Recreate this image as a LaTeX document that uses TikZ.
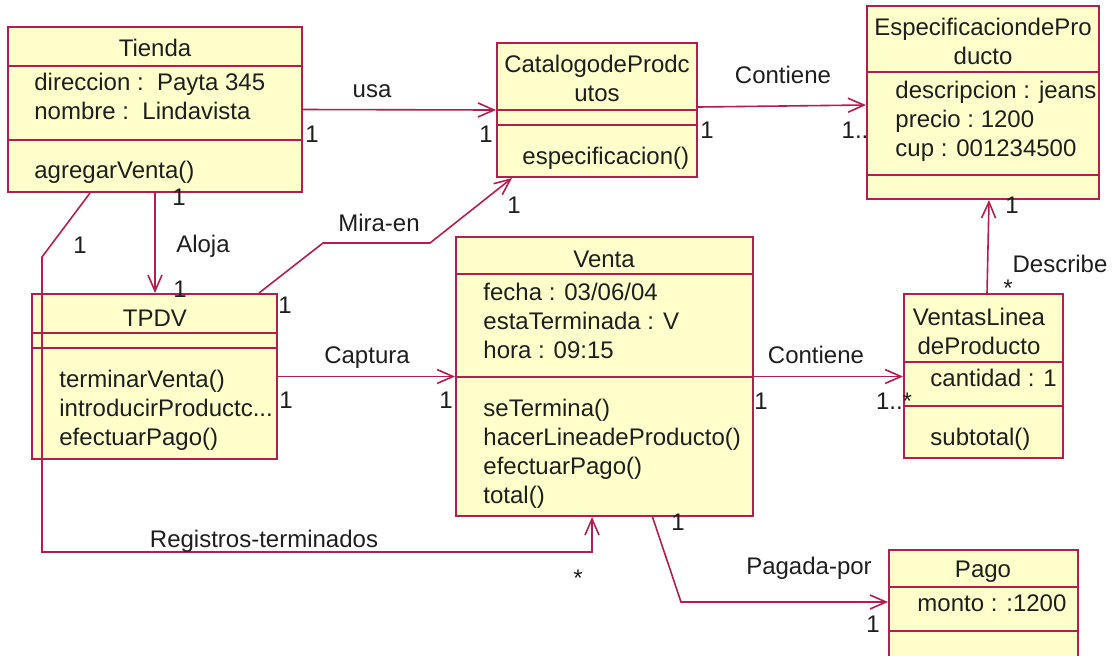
\documentclass[tikz,border=0pt]{standalone}
\usepackage{fontspec}
\setmainfont{Liberation Sans}
\usetikzlibrary{arrows.meta, positioning}
\definecolor{umlline}{RGB}{180,30,78}
\definecolor{umlfill}{RGB}{255,255,204}
\definecolor{umltext}{RGB}{30,30,30}

\begin{document}
\begin{tikzpicture}[
    x=0.5pt, y=-0.5pt,
    font=\fontsize{12}{14.5}\selectfont,
    classbox/.style={rectangle, draw=umlline, fill=umlfill, line width=1pt, inner sep=0pt},
    divider/.style={draw=umlline, line width=1pt},
    txt/.style={inner sep=0pt, align=left, anchor=base west, text=umltext},
    ttl/.style={inner sep=0pt, align=center, anchor=base, text=umltext},
    lbl/.style={inner sep=0pt, anchor=base, text=umltext},
    assoc/.style={draw=umlline, line width=0.8pt, -{Straight Barb[length=8pt,width=7pt]}},
    link/.style={draw=umlline, line width=0.8pt}
]
\useasboundingbox (0,0) rectangle (1112,655);
\fill[white] (0,0) rectangle (1112,655);
\clip (0,0) rectangle (1112,655);

% Classes (multi-line texts sit on the baseline of their last line)
\node (tienda) [classbox, minimum width=147pt, minimum height=82.5pt] at (155,109.5) {};
\draw [divider] (tienda.west |- 0,66) -- (tienda.east |- 0,66);
\draw [divider] (tienda.west |- 0,140) -- (tienda.east |- 0,140);
\node (tienda-name) [ttl] at (155,56) {Tienda};
\node (tienda-attr) [txt] at (34,119) {direccion :\ \ Payta 345\\nombre :\ \ Lindavista};
\node (tienda-ops) [txt] at (34,178) {agregarVenta()};

\node (catalogo) [classbox, minimum width=100pt, minimum height=67pt] at (597,110) {};
\draw [divider] (catalogo.west |- 0,110) -- (catalogo.east |- 0,110);
\draw [divider] (catalogo.west |- 0,125) -- (catalogo.east |- 0,125);
\node (catalogo-name) [ttl] at (597,101) {CatalogodeProdc\\utos};
\node (catalogo-ops) [txt] at (522,164) {especificacion()};

\node (espec) [classbox, minimum width=116pt, minimum height=96.5pt] at (983,102.5) {};
\draw [divider] (espec.west |- 0,72) -- (espec.east |- 0,72);
\draw [divider] (espec.west |- 0,175) -- (espec.east |- 0,175);
\node (espec-name) [ttl] at (983,64) {EspecificaciondePro\\ducto};
\node (espec-attr) [txt] at (895,156) {descripcion : jeans\\precio :\ 1200\\cup : 001234500};

\node (tpdv) [classbox, minimum width=122.5pt, minimum height=82.5pt] at (154.5,376.5) {};
\draw [divider] (tpdv.west |- 0,333) -- (tpdv.east |- 0,333);
\draw [divider] (tpdv.west |- 0,348) -- (tpdv.east |- 0,348);
\node (tpdv-name) [ttl] at (155,326) {TPDV};
\node (tpdv-ops) [txt] at (59,445) {terminarVenta()\\introducirProductc...\\efectuarPago()};

\node (venta) [classbox, minimum width=148.5pt, minimum height=139.5pt] at (604.5,376.5) {};
\draw [divider] (venta.west |- 0,274) -- (venta.east |- 0,274);
\draw [divider] (venta.west |- 0,377) -- (venta.east |- 0,377);
\node (venta-name) [ttl] at (604,267) {Venta};
\node (venta-attr) [txt] at (483,358) {fecha : 03/06/04\\estaTerminada : V\\hora : 09:15};
\node (venta-ops) [txt] at (483,503) {seTermina()\\hacerLineadeProducto()\\efectuarPago()\\total()};

\node (linea) [classbox, minimum width=79.5pt, minimum height=82pt] at (983.5,376) {};
\draw [divider] (linea.west |- 0,362) -- (linea.east |- 0,362);
\draw [divider] (linea.west |- 0,406) -- (linea.east |- 0,406);
\node (linea-name) [ttl] at (979,354) {VentasLinea\\deProducto};
\node (linea-attr) [txt] at (930,386) {cantidad : 1};
\node (linea-ops) [txt] at (930,445) {subtotal()};

\node (pago) [classbox, minimum width=94.5pt, minimum height=62.5pt] at (983.5,612.5) {};
\draw [divider] (pago.west |- 0,587) -- (pago.east |- 0,587);
\draw [divider] (pago.west |- 0,631) -- (pago.east |- 0,631);
\node (pago-name) [ttl] at (983,577) {Pago};
\node (pago-attr) [txt] at (917,611) {monto : :1200};

% Associations
\draw [assoc] (tienda.east) -- (catalogo.west);
\node (usa) [lbl] at (372,97) {usa};
\node (usa-m1) [lbl] at (312,142) {1};
\node (usa-m2) [lbl] at (486,142) {1};

\draw [assoc] ([yshift=1.5pt]catalogo.east) -- ([yshift=-1.25pt]espec.west);
\node (cont1) [lbl] at (783,83) {Contiene};
\node (cont1-m1) [lbl] at (707,138) {1};
\node (cont1-m2) [lbl] at (855,138) {1..};

\draw [assoc] (tienda.south) -- (tienda.south |- tpdv.north);
\node (aloja) [lbl] at (203,252) {Aloja};
\node (aloja-m1) [lbl] at (179,205) {1};
\node (aloja-m2) [lbl] at (180,297) {1};

\draw [assoc] ([xshift=-32.5pt]tienda.south) -- (42,257) -- (42,552) -| ([xshift=-6.25pt]venta.south);
\node (regis) [lbl] at (264,547) {Registros-terminados};
\node (regis-m1) [lbl] at (80,253) {1};
\node (regis-m2) [lbl] at (578,586) {*};

\draw [assoc] ([xshift=52.25pt]tpdv.north) -- (323,243) -- (430,243) -- ([xshift=-42.5pt]catalogo.south);
\node (mira) [lbl] at (379,231) {Mira-en};
\node (mira-m1) [lbl] at (285,313) {1};
\node (mira-m2) [lbl] at (514,213) {1};

\draw [assoc] (tpdv.east) -- (venta.west);
\node (captura) [lbl] at (367,363) {Captura};
\node (captura-m1) [lbl] at (286,408) {1};
\node (captura-m2) [lbl] at (446,408) {1};

\draw [assoc] (venta.east) -- (venta.east -| linea.west);
\node (cont2) [lbl] at (816,363) {Contiene};
\node (cont2-m1) [lbl] at (761,409) {1};
\node (cont2-m2) [lbl] at (894,409) {1..*};

\draw [assoc] ([xshift=1.75pt]linea.north) -- ([xshift=3pt]espec.south);
\node (describe) [lbl] at (1060,272) {Describe};
\node (describe-m1) [lbl] at (1012,213) {1};
\node (describe-m2) [lbl] at (1008,296) {*};

\draw [assoc] ([xshift=24pt]venta.south) -- (681,602) -- (pago.west |- 0,602);
\node (pagada) [lbl] at (809,574) {Pagada-por};
\node (pagada-m1) [lbl] at (678,530) {1};
\node (pagada-m2) [lbl] at (873,632) {1};

\end{tikzpicture}
\end{document}
